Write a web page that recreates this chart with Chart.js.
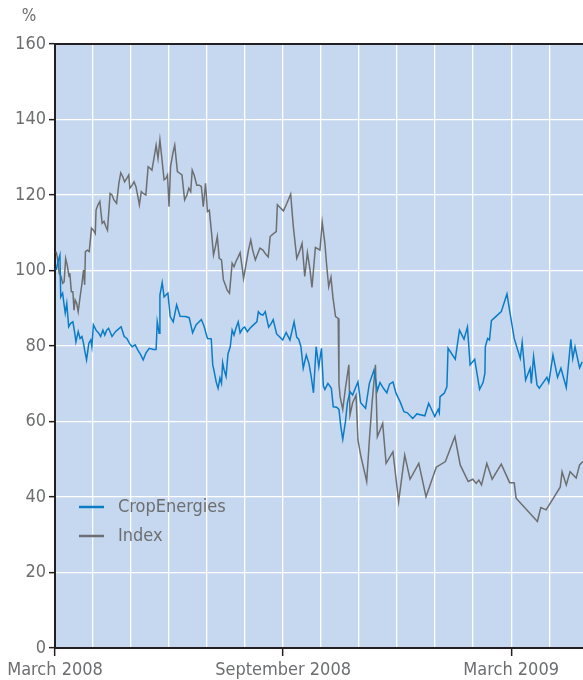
<!DOCTYPE html>
<html>
<head>
<meta charset="utf-8">
<script src="https://cdn.jsdelivr.net/npm/chart.js@4.4.0/dist/chart.umd.min.js"></script>
<style>
  html, body { margin: 0; padding: 0; background: #fff; }
  #wrap { position: relative; width: 583px; height: 680px; }
</style>
</head>
<body>
<div id="wrap"><canvas id="myChart" width="583" height="680"></canvas></div>
<script>
// x values are months since March 2008
var cropMonths = [0.03,0.08,0.13,0.15,0.2,0.24,0.27,0.31,0.36,0.41,
  0.47,0.52,0.55,0.61,0.66,0.71,0.75,0.78,0.83,0.89,
  0.94,0.97,1.01,1.08,1.15,1.2,1.26,1.31,1.36,1.41,
  1.5,1.59,1.66,1.74,1.82,1.89,1.96,2.03,2.11,2.18,
  2.26,2.32,2.39,2.48,2.59,2.66,2.69,2.74,2.76,2.82,
  2.87,2.92,2.97,3.03,3.11,3.2,3.29,3.43,3.53,3.62,
  3.71,3.85,3.92,4.01,4.11,4.15,4.18,4.24,4.29,4.34,
  4.38,4.41,4.45,4.5,4.55,4.61,4.66,4.71,4.76,4.82,
  4.87,4.94,4.99,5.06,5.13,5.22,5.31,5.35,5.41,5.47,
  5.53,5.62,5.69,5.74,5.83,5.9,5.99,6.08,6.18,6.29,
  6.36,6.41,6.47,6.53,6.61,6.68,6.74,6.8,6.87,6.94,
  7.01,7.06,7.1,7.18,7.27,7.32,7.41,7.47,7.52,7.57,
  7.64,7.69,7.76,7.83,7.9,7.97,8.04,8.17,8.27,8.39,
  8.48,8.55,8.64,8.73,8.8,8.89,8.97,9.08,9.18,9.27,
  9.41,9.52,9.73,9.83,9.89,9.99,10.08,10.11,10.13,10.24,
  10.31,10.34,10.53,10.59,10.64,10.76,10.85,10.92,11.04,11.17,
  11.26,11.31,11.32,11.38,11.43,11.48,11.61,11.74,11.89,11.97,
  12.08,12.24,12.29,12.38,12.5,12.53,12.59,12.68,12.74,12.94,
  12.99,13.1,13.22,13.31,13.45,13.57,13.62,13.68,13.8,13.87];

var cropValues = [100.1,102.4,104.1,93,94,90.9,88.7,91.3,85.1,86,
  86.4,83.4,81.1,83.8,82,82.5,80.7,78.9,76.3,80.7,
  81.6,79.8,85.6,84.2,83.4,82.5,84.2,82.9,84.2,84.7,
  82.5,83.8,84.4,85.1,82.5,82,80.7,79.8,80.3,78.9,
  77.6,76.3,78.1,79.4,79.1,79.1,86.4,83.4,93.5,96.8,
  93,93.5,94,87.8,86.4,90.9,87.9,87.8,87.5,83.5,
  85.6,87,85.3,82,81.9,75,73.6,70.5,68.8,71.5,
  70.1,75.6,73.6,71.9,77.9,79.8,84.2,82.9,84.7,86.4,
  83.5,84.7,85,83.8,84.7,85.6,86.4,89.1,88.4,88.2,
  89.1,85,86,87,83.2,82.5,81.6,83.6,81.6,86.4,
  82.3,81.8,79.8,74.1,77.6,75.4,71.9,67.6,79.8,74.5,
  79.4,69.4,68.5,70.1,68.8,63.9,63.8,63.2,58.6,55.3,
  59.9,64.8,67.9,67,68.8,70.5,65,63.5,70.1,73.6,
  68.2,70.3,68.8,67.6,69.9,70.5,67.5,65.2,62.6,62.3,
  60.8,62,61.5,64.8,63.5,61.3,63.2,62.3,66.6,67.5,
  69.2,79.4,76.5,80.7,84.2,81.8,85,75,76.5,68.5,
  70.3,72.8,79.8,82,81.6,86.7,87.9,89.1,93.8,88.8,
  82,76.7,81,71,74.1,70.1,77.2,69.7,68.8,71.7,
  70.3,77.6,71.7,74.1,69,81.8,76.7,79.8,74.2,75.8];

var indexMonths = [0.03,0.06,0.11,0.16,0.2,0.24,0.28,0.32,0.37,0.39,
  0.43,0.47,0.5,0.53,0.57,0.61,0.66,0.71,0.75,0.78,
  0.8,0.85,0.9,0.96,1.01,1.06,1.08,1.13,1.18,1.24,
  1.29,1.34,1.38,1.45,1.5,1.55,1.62,1.68,1.73,1.78,
  1.83,1.89,1.94,1.97,2.03,2.08,2.13,2.18,2.22,2.27,
  2.32,2.39,2.45,2.5,2.55,2.61,2.66,2.71,2.76,2.82,
  2.87,2.92,2.96,3.0,3.04,3.1,3.15,3.22,3.29,3.34,
  3.41,3.47,3.52,3.57,3.61,3.66,3.73,3.8,3.85,3.9,
  3.96,4.01,4.06,4.12,4.17,4.22,4.27,4.32,4.38,4.43,
  4.48,4.53,4.59,4.66,4.71,4.76,4.82,4.87,4.92,4.96,
  5.03,5.09,5.15,5.2,5.27,5.32,5.39,5.47,5.53,5.61,
  5.66,5.74,5.82,5.85,5.92,6.01,6.1,6.2,6.27,6.36,
  6.43,6.5,6.57,6.64,6.71,6.76,6.85,6.94,6.97,7.03,
  7.1,7.15,7.2,7.26,7.31,7.38,7.45,7.47,7.5,7.57,
  7.64,7.73,7.76,7.83,7.92,7.97,8.04,8.13,8.2,8.27,
  8.34,8.43,8.48,8.55,8.62,8.71,8.89,9.04,9.2,9.34,
  9.57,9.76,10.03,10.27,10.52,10.66,10.87,10.99,11.08,11.15,
  11.22,11.36,11.5,11.74,11.96,12.08,12.13,12.69,12.78,12.92,
  13.29,13.34,13.45,13.55,13.71,13.8,13.89];

var indexValues = [105,103.6,99.3,98.4,96.6,97,103.2,101.5,98.4,99.3,
  94.4,94.4,89.5,92.2,91.3,89.1,93,96.6,100.1,96.2,
  105,105.4,105,111.2,110.7,109.8,116,117.4,118.3,112.5,
  113,111.6,110.7,120.4,120,118.7,117.8,123.1,125.9,124.9,
  123.5,124.4,125.3,121.8,122.6,123.5,122.2,119.6,117.4,120.9,
  120.4,120,127.5,127.1,126.6,130.1,133.2,129.7,134.6,128.8,
  124,124.4,125.3,116.9,127.5,131,133.2,126.2,125.7,125.3,
  118.7,120,121.8,120.9,126.6,125.3,122.6,122.6,122.2,116.9,
  123.1,115.6,116,109.8,104.1,106.3,109,103.2,102.8,97.5,
  96.2,94.8,94,101.9,101,102.4,103.6,104.7,101,97.9,
  101.9,105.4,108.1,105.4,102.8,104.1,105.9,105.4,104.5,103.6,
  109,109.7,110.3,117.4,116.7,115.8,117.8,120.2,111.6,103.2,
  105,107.2,98.4,104.7,100.1,95.5,106.1,105.6,105.4,112.8,
  107.2,101,95.7,98.2,93,87.8,87.3,70.1,66.6,63.2,
  68.8,75,61.7,65,67,55.1,51.1,47.2,44.1,55.1,
  64.8,75,56,57.7,59.5,48.9,52,38.8,51.1,44.7,
  48.9,40.1,47.9,49.4,56,48.5,44.1,44.7,43.6,44.5,
  43.2,48.9,44.7,48.7,43.8,43.8,39.7,33.5,37.2,36.6,
  42.6,46.7,43.2,46.7,45,48.5,49.4];

var seriesNames = ['CropEnergies', 'Index'];
var seriesColors = ['#0a7cc6', '#6d6e70'];

var tickMonths = [0, 6, 12];
var tickLabels = ['March 2008', 'September 2008', 'March 2009'];

var FONT = '"Liberation Sans Narrow", "DejaVu Sans Condensed", sans-serif';
var TEXT = '#6d6e70';
var AXIS = '#231f20';

Chart.defaults.font.family = FONT;

function toPoints(xs, ys) {
  return xs.map(function (x, i) { return { x: x, y: ys[i] }; });
}

// background, top border, legend and unit label
var extras = {
  id: 'extras',
  beforeDraw: function (chart) {
    var a = chart.chartArea, c = chart.ctx;
    c.save();
    c.fillStyle = '#c6d8ef';
    c.fillRect(a.left, a.top, a.right - a.left, a.bottom - a.top);
    c.restore();
  },
  afterDraw: function (chart) {
    var a = chart.chartArea, c = chart.ctx;
    c.save();
    c.strokeStyle = AXIS;
    c.lineWidth = 2;
    c.beginPath();
    c.moveTo(a.left - 1, a.top);
    c.lineTo(a.right, a.top);
    c.stroke();

    c.fillStyle = TEXT;
    c.font = '17px ' + FONT;
    c.textAlign = 'center';
    c.textBaseline = 'middle';
    c.fillText('%', 29, 17);

    // legend
    c.font = '18px ' + FONT;
    c.textAlign = 'left';
    chart.data.datasets.forEach(function (ds, i) {
      var y = 507 + i * 29;
      c.strokeStyle = ds.borderColor;
      c.lineWidth = 2.5;
      c.beginPath();
      c.moveTo(79, y);
      c.lineTo(104, y);
      c.stroke();
      c.fillStyle = TEXT;
      c.fillText(ds.label, 118, y);
    });
    c.restore();
  }
};

var ctx = document.getElementById('myChart').getContext('2d');
var myChart = new Chart(ctx, {
  type: 'line',
  data: {
    datasets: [
      {
        label: seriesNames[0],
        data: toPoints(cropMonths, cropValues),
        borderColor: seriesColors[0],
        borderWidth: 1.5,
        pointRadius: 0,
        tension: 0
      },
      {
        label: seriesNames[1],
        data: toPoints(indexMonths, indexValues),
        borderColor: seriesColors[1],
        borderWidth: 1.5,
        pointRadius: 0,
        tension: 0
      }
    ]
  },
  options: {
    responsive: false,
    animation: false,
    devicePixelRatio: 1,
    layout: { padding: { top: 44, left: 0, right: 0, bottom: 0 } },
    plugins: {
      legend: { display: false },
      tooltip: { enabled: false }
    },
    scales: {
      x: {
        type: 'linear',
        min: 0,
        max: 13.89,
        afterFit: function (s) { s.height = 32; },
        ticks: {
          stepSize: 1,
          includeBounds: false,
          autoSkip: false,
          maxRotation: 0,
          color: TEXT,
          font: { size: 18 },
          padding: 4,
          callback: function (v) {
            var k = tickMonths.indexOf(v);
            return k >= 0 ? tickLabels[k] : '';
          }
        },
        grid: {
          color: '#ffffff',
          lineWidth: 1.3,
          drawTicks: true,
          tickLength: 8,
          tickWidth: 1.5,
          tickColor: function (c) {
            return c.tick && tickMonths.indexOf(c.tick.value) >= 0 ? AXIS : 'rgba(0,0,0,0)';
          }
        },
        border: { color: AXIS, width: 2 }
      },
      y: {
        min: 0,
        max: 160,
        afterFit: function (s) { s.width = 55; },
        ticks: {
          stepSize: 20,
          color: TEXT,
          font: { size: 18 },
          padding: 3
        },
        grid: {
          color: '#ffffff',
          lineWidth: 1.3,
          tickLength: 6,
          tickWidth: 1.5,
          tickColor: AXIS
        },
        border: { color: AXIS, width: 2 }
      }
    }
  },
  plugins: [extras]
});
</script>
</body>
</html>
